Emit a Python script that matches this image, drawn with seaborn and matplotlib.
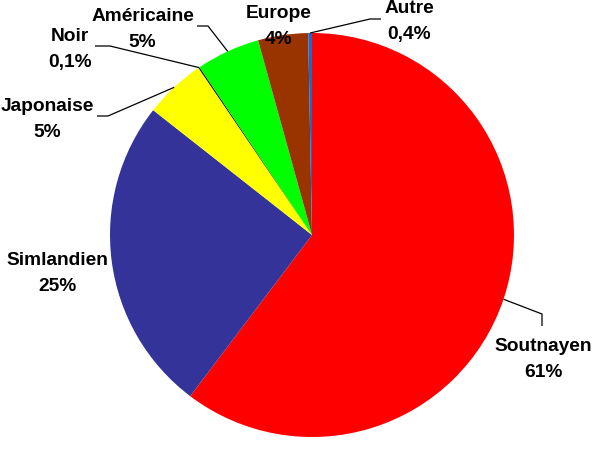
import numpy as np
import matplotlib
matplotlib.use("Agg")
import matplotlib.pyplot as plt
import seaborn as sns

# ---- data ----
categories = ["Soutnayen", "Simlandien", "Japonaise", "Noir", "Américaine", "Europe", "Autre"]
shares = [60.3, 25.3, 4.9, 0.1, 5.1, 4.0, 0.3]
pct_labels = ["61%", "25%", "5%", "0,1%", "5%", "4%", "0,4%"]
colors = ["#FF0000", "#333399", "#FFFF00", "#000000", "#00FF00", "#993300", "#1F66CC"]

sns.set_theme(style="white")
plt.rcParams["font.family"] = ["Liberation Sans", "DejaVu Sans"]

W, H = 612, 460
fig = plt.figure(figsize=(W / 100, H / 100), dpi=100)
ax = fig.add_axes([0, 0, 1, 1])
ax.set_axis_off()

def P(x, y):
    """pixel coords (top-left origin) -> data coords"""
    return x, H - y

cx, cy = P(312, 236)
wedges, _ = ax.pie(shares, colors=colors, startangle=90, counterclock=False,
                   center=(cx, cy), radius=202, frame=True,
                   wedgeprops=dict(linewidth=0))
ax.set_xlim(0, W)
ax.set_ylim(0, H)
ax.set_aspect("equal")
ax.set_axis_off()

# label layout (pixel coords): text x, baseline of name line, baseline of pct line
text_pos = {
    "Soutnayen": (543, 351.5, 377.5),
    "Simlandien": (57, 265, 291),
    "Japonaise": (47, 111, 137),
    "Noir": (70, 41, 67),
    "Américaine": (142.5, 21, 47),
    "Europe": (279, 18, 44),
    "Autre": (409, 13, 39),
}
# leader line: elbow point and end point (pixel coords)
leaders = {
    "Soutnayen": [(542, 315), (542, 327)],
    "Japonaise": [(108, 117), (97, 117)],
    "Noir": [(110, 47), (95, 47)],
    "Américaine": [(208, 27), (197, 27)],
    "Autre": [(370, 20), (381, 20)],
}

for w, cat, pct in zip(wedges, categories, pct_labels):
    x, y1, y2 = text_pos[cat]
    ax.text(*P(x, y1), cat, ha="center", va="baseline", fontsize=13.8,
            fontweight="bold", color="black", zorder=5)
    ax.text(*P(x, y2), pct, ha="center", va="baseline", fontsize=13.8,
            fontweight="bold", color="black", zorder=5)
    if cat in leaders:
        ang = np.deg2rad((w.theta1 + w.theta2) / 2)
        sx = w.center[0] + w.r * np.cos(ang)
        sy = w.center[1] + w.r * np.sin(ang)
        pts = [(sx, sy)] + [P(*p) for p in leaders[cat]]
        xs, ys = zip(*pts)
        ax.plot(xs, ys, color="black", lw=0.9, zorder=4, solid_capstyle="butt")

fig.savefig("out.png", dpi=100, facecolor="white")
